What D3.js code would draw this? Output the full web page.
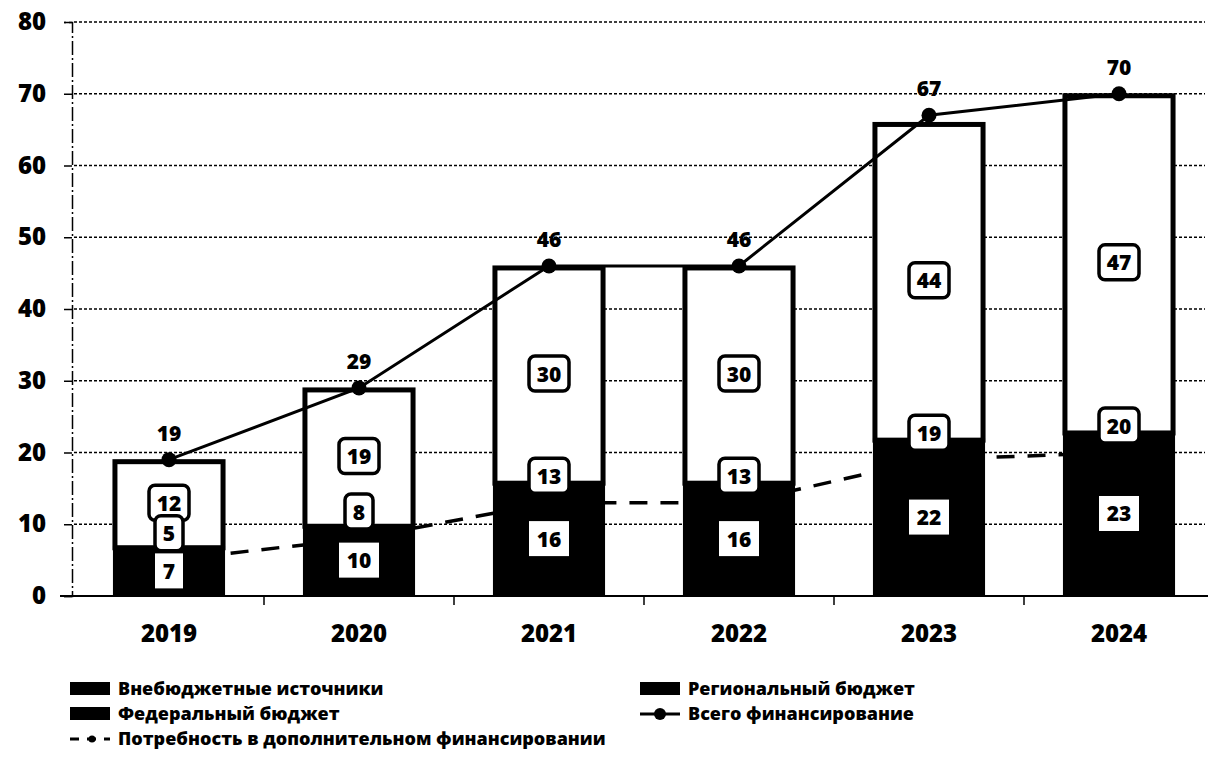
<!DOCTYPE html>
<html>
<head>
<meta charset="utf-8">
<script src="https://cdn.jsdelivr.net/npm/d3@7"></script>
<style>
  body { margin: 0; background: #fff; }
  svg { font-family: "Open Sans", "DejaVu Sans", sans-serif; font-weight: 800; }
</style>
</head>
<body>
<svg width="1208" height="758"></svg>
<script>
// data
var years = ["2019", "2020", "2021", "2022", "2023", "2024"];
var extraBudget = [7, 10, 16, 16, 22, 23];      // bottom (black)
var regionalBudget = [12, 19, 30, 30, 44, 47];  // top (white)
var federalBudget = [0, 0, 0, 0, 0, 0];
var totalFunding = [19, 29, 46, 46, 67, 70];
var needExtra = [5, 8, 13, 13, 19, 20];
var yTicks = [0, 10, 20, 30, 40, 50, 60, 70, 80];
var legendNames = ["Внебюджетные источники", "Региональный бюджет", "Федеральный бюджет",
                   "Всего финансирование", "Потребность в дополнительном финансировании"];

var svg = d3.select("svg");

var x = d3.scaleBand().domain(years).range([74, 1214]).paddingInner(0.41).paddingOuter(0.205);
var y = d3.scaleLinear().domain([0, 80]).range([596, 22]);

// gridlines
svg.append("g")
  .selectAll("line")
  .data(yTicks.slice(1))
  .enter().append("line")
  .attr("x1", 74).attr("x2", 1205)
  .attr("y1", d => y(d)).attr("y2", d => y(d))
  .attr("stroke", "#000").attr("stroke-width", 1.3)
  .attr("stroke-dasharray", "3,2");

// y axis
var yAxis = d3.axisLeft(y).tickValues(yTicks).tickSize(8).tickPadding(18);
var gy = svg.append("g").attr("transform", "translate(72,0)").call(yAxis);
gy.select(".domain").attr("stroke-width", 1.5).attr("stroke-dasharray", "14,3,2,3");
gy.selectAll(".tick line").attr("stroke-width", 1.5);
gy.selectAll("text").attr("font-size", 24).attr("font-weight", 800)
  .attr("font-family", "Open Sans").attr("fill", "#000");

// dashed need line, behind bars
var line = d3.line().x((d, i) => x(years[i]) + x.bandwidth() / 2).y(d => y(d));
svg.append("path")
  .datum(needExtra)
  .attr("d", line)
  .attr("fill", "none").attr("stroke", "#000").attr("stroke-width", 3.5)
  .attr("stroke-dasharray", "18,13");

// bars
var bars = svg.append("g");
bars.selectAll(".top")
  .data(years)
  .enter().append("rect")
  .attr("x", d => x(d) + 2)
  .attr("width", x.bandwidth() - 4)
  .attr("y", (d, i) => y(extraBudget[i] + regionalBudget[i] + federalBudget[i]) + 2)
  .attr("height", (d, i) => y(extraBudget[i]) - y(extraBudget[i] + regionalBudget[i] + federalBudget[i]))
  .attr("fill", "#fff").attr("stroke", "#000").attr("stroke-width", 5);
bars.selectAll(".bottom")
  .data(years)
  .enter().append("rect")
  .attr("x", d => x(d))
  .attr("width", x.bandwidth())
  .attr("y", (d, i) => y(extraBudget[i]))
  .attr("height", (d, i) => y(0) - y(extraBudget[i]))
  .attr("fill", "#000");

// x axis
var xAxisLine = svg.append("g");
xAxisLine.append("line")
  .attr("x1", 60).attr("x2", 1208).attr("y1", y(0)).attr("y2", y(0))
  .attr("stroke", "#000").attr("stroke-width", 2);
xAxisLine.selectAll(".xt")
  .data(years.slice(1))
  .enter().append("line")
  .attr("x1", d => x(d) - (x.step() - x.bandwidth()) / 2)
  .attr("x2", d => x(d) - (x.step() - x.bandwidth()) / 2)
  .attr("y1", y(0)).attr("y2", y(0) + 9)
  .attr("stroke", "#000").attr("stroke-width", 1.5);
svg.append("g")
  .selectAll("text")
  .data(years)
  .enter().append("text")
  .attr("x", d => x(d) + x.bandwidth() / 2)
  .attr("y", 642)
  .attr("text-anchor", "middle")
  .attr("font-size", 24)
  .text(d => d);

// total line
svg.append("path")
  .datum(totalFunding)
  .attr("d", line)
  .attr("fill", "none").attr("stroke", "#000").attr("stroke-width", 3);
svg.append("g")
  .selectAll("circle")
  .data(totalFunding)
  .enter().append("circle")
  .attr("cx", (d, i) => x(years[i]) + x.bandwidth() / 2)
  .attr("cy", d => y(d))
  .attr("r", 7.5).attr("fill", "#000");
svg.append("g")
  .selectAll("text")
  .data(totalFunding)
  .enter().append("text")
  .attr("x", (d, i) => x(years[i]) + x.bandwidth() / 2)
  .attr("y", d => y(d) - 19)
  .attr("text-anchor", "middle")
  .attr("font-size", 21)
  .text(d => d);

// boxed labels
function boxLabel(g, cx, cy, txt, bordered) {
  var w = txt.length > 1 ? 40 : 28, h = 35;
  g.append("rect")
    .attr("x", cx - w / 2).attr("y", cy - h / 2)
    .attr("width", w).attr("height", h)
    .attr("rx", bordered ? 6 : 0)
    .attr("fill", "#fff")
    .attr("stroke", bordered ? "#000" : "none")
    .attr("stroke-width", 3.5);
  g.append("text")
    .attr("x", cx).attr("y", cy + 8)
    .attr("text-anchor", "middle")
    .attr("font-size", 21)
    .text(txt);
}

var lab = svg.append("g");
years.forEach(function(yr, i) {
  var cx = x(yr) + x.bandwidth() / 2;
  boxLabel(lab, cx, y(extraBudget[i] + regionalBudget[i] / 2), String(regionalBudget[i]), true);
  boxLabel(lab, cx, y(needExtra[i]) - 27, String(needExtra[i]), true);
  boxLabel(lab, cx, y(extraBudget[i] / 2), String(extraBudget[i]), false);
});

// legend
var leg = svg.append("g").attr("font-family", "Open Sans").attr("font-size", 18).attr("font-weight", 800);
var legPos = [[70, 689], [640, 689], [70, 714], [640, 714], [70, 739]];
legendNames.forEach(function(name, i) {
  var p = legPos[i];
  var g = leg.append("g").attr("transform", "translate(" + p[0] + "," + p[1] + ")");
  if (i < 3) {
    g.append("rect").attr("x", 0).attr("y", -7).attr("width", 40).attr("height", 13).attr("fill", "#000");
  } else if (i == 3) {
    g.append("line").attr("x1", 0).attr("x2", 40).attr("y1", 0).attr("y2", 0).attr("stroke", "#000").attr("stroke-width", 3);
    g.append("circle").attr("cx", 20).attr("cy", 0).attr("r", 6).attr("fill", "#000");
  } else {
    g.append("line").attr("x1", 0).attr("x2", 40).attr("y1", 0).attr("y2", 0).attr("stroke", "#000")
      .attr("stroke-width", 3).attr("stroke-dasharray", "9,8");
    g.append("circle").attr("cx", 22).attr("cy", 0).attr("r", 3.5).attr("fill", "#000");
  }
  g.append("text").attr("x", 48).attr("y", 6).attr("textLength", null).text(name);
});
</script>
</body>
</html>
